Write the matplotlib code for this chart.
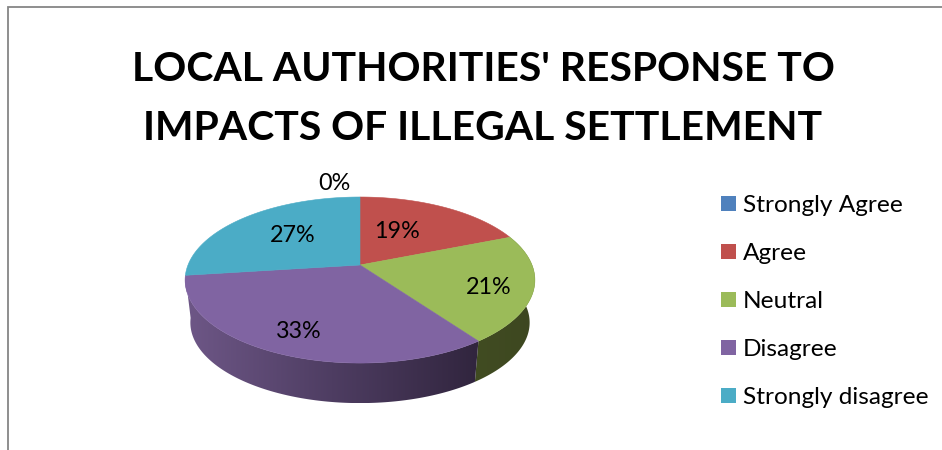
import numpy as np
import matplotlib
matplotlib.use("Agg")
import matplotlib.pyplot as plt
from matplotlib.patches import Patch, Polygon
from matplotlib.colors import LinearSegmentedColormap

# Survey responses, percent
categories = ["Strongly Agree", "Agree", "Neutral", "Disagree", "Strongly disagree"]
values = [0, 19, 21, 33, 27]
title_lines = ["LOCAL AUTHORITIES' RESPONSE TO", "IMPACTS OF ILLEGAL SETTLEMENT"]

# Styles and label placement, in pixels of the 942x450 canvas
face_colors = ["#4F81BD", "#C0504D", "#9BBB59", "#8064A2", "#4BACC6"]
side_stops = {2: ["#414C22", "#3D4720"], 3: ["#6E5787", "#4E3D62", "#31253E"]}
label_xy = [(334, 183), (397, 232), (489, 288), (299, 332), (293, 236)]

plt.rcParams["font.family"] = ["Lato", "DejaVu Sans"]

fig = plt.figure(figsize=(9.42, 4.5), dpi=100, facecolor="white")
ax = fig.add_axes([0, 0, 1, 1])

# Perspective projection of the unit disc onto the canvas
CX, CY, A, B, P = 360.0, 265.0, 172.0, 80.3, -0.181
RIM_SCALE, RIM_DROP = 0.97, 43.0


def project(theta):
    x, y = np.sin(theta), np.cos(theta)
    d = 1 - P * y
    return CX + A * x / d, CY - B * y / d


def lower(px, py):
    return CX + RIM_SCALE * (px - CX), CY + RIM_DROP + RIM_SCALE * (py - CY)


edges = np.radians(np.concatenate([[0], np.cumsum(values)]) * 3.6)

# Side walls of the sectors that face the viewer
for i, (t0, t1) in enumerate(zip(edges[:-1], edges[1:])):
    if t1 <= t0 or np.cos((t0 + t1) / 2) >= 0:
        continue
    th = np.linspace(t0, t1, 120)
    tx, ty = project(th)
    bx, by = lower(tx, ty)
    pts = np.r_[np.c_[tx, ty], np.c_[bx, by][::-1]]
    clip = Polygon(pts, closed=True, transform=ax.transData, fc="none", ec="none")
    ax.add_patch(clip)
    cmap = LinearSegmentedColormap.from_list("side", side_stops[i])
    grad = np.linspace(0, 1, 256)[None, :]
    im = ax.imshow(grad, cmap=cmap, aspect="auto", interpolation="bilinear",
                   extent=(pts[:, 0].min(), pts[:, 0].max(), pts[:, 1].max(), pts[:, 1].min()))
    im.set_clip_path(clip)

# Top faces
for color, t0, t1 in zip(face_colors, edges[:-1], edges[1:]):
    if t1 <= t0:
        continue
    tx, ty = project(np.linspace(t0, t1, 200))
    pts = np.r_[[[CX, CY]], np.c_[tx, ty]]
    ax.add_patch(Polygon(pts, closed=True, fc=color, ec=color, lw=0.4))

# Percentage labels
for v, (lx, ly) in zip(values, label_xy):
    ax.text(lx, ly, f"{v}%", fontsize=16.8, color="black", ha="center", va="center")

# Title
for line, y in zip(title_lines, (81, 140)):
    ax.text(483, y, line, fontsize=29.4, fontweight="bold", color="black",
            ha="center", va="baseline")

# Chart frame: only the top and left edges fall on the canvas
ax.plot([8, 8, 942], [450, 7, 7], color="#868686", lw=1.3, solid_joinstyle="miter")

# Legend
fs = 17.6
swatch = 15 * 0.72 / fs
handles = [Patch(fc=c, ec=c, lw=0) for c in face_colors]
ax.legend(handles, categories, loc="upper left", bbox_to_anchor=(721, 195),
          bbox_transform=ax.transData, frameon=False, fontsize=fs,
          handlelength=swatch, handleheight=swatch, handletextpad=7 * 0.72 / fs,
          labelspacing=1.105, borderpad=0, borderaxespad=0, labelcolor="black")

ax.set_xlim(0, 942)
ax.set_ylim(450, 0)
ax.axis("off")

fig.savefig("out.png", dpi=100, facecolor="white")
